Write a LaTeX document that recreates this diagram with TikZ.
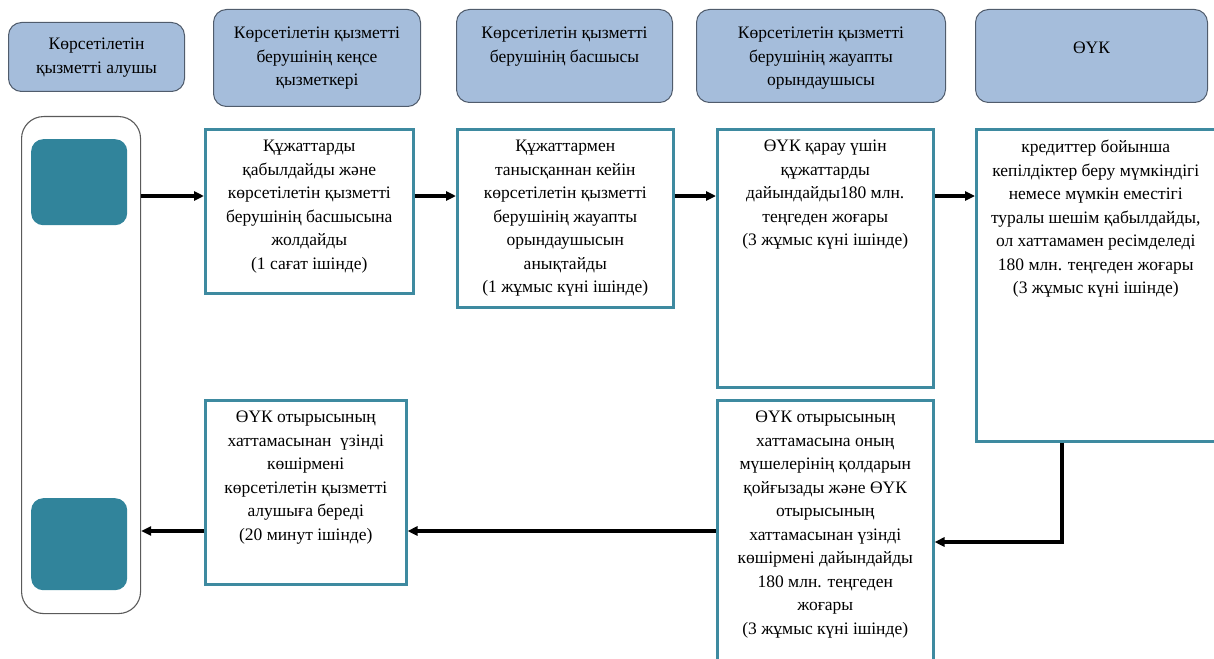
\documentclass[tikz,border=0pt]{standalone}
\usepackage{fontspec}
\setmainfont{Liberation Serif}
\usetikzlibrary{arrows.meta}
\definecolor{hdrfill}{RGB}{165,189,219}
\definecolor{hdrline}{RGB}{80,92,108}
\definecolor{teal}{RGB}{49,132,155}
\definecolor{boxline}{RGB}{62,138,160}
\definecolor{bigline}{RGB}{90,90,90}
\begin{document}
\begin{tikzpicture}[x=1pt,y=-1pt,
  hdr/.style={draw=hdrline, line width=1pt, fill=hdrfill, rounded corners=13pt, anchor=north west, inner sep=0pt},
  stepbox/.style={draw=boxline, line width=2.5pt, fill=white, anchor=north west, inner sep=0pt},
  bigbox/.style={draw=bigline, line width=1.1pt, rounded corners=22pt, anchor=north west, inner sep=0pt},
  sqbox/.style={fill=teal, rounded corners=12pt, anchor=north west, inner sep=0pt},
  txt/.style={font=\fontsize{17.5}{23.5}\selectfont, align=center, inner sep=0pt, anchor=north},
  arr/.style={line width=3.1pt, -{Triangle[length=10pt,width=9pt]}}]
\useasboundingbox (0,0) rectangle (1214,658);
% headers
\node[hdr, minimum width=176pt, minimum height=69pt] (h1) at (8,22) {};
\node[hdr, minimum width=207pt, minimum height=97pt] (h2) at (213,9) {};
\node[hdr, minimum width=216pt, minimum height=93pt] (h3) at (456,9) {};
\node[hdr, minimum width=249pt, minimum height=93pt] (h4) at (696,9) {};
\node[hdr, minimum width=232pt, minimum height=93pt] (h5) at (975,9) {};
\node[txt] (h1t) at ([yshift=-16pt]h1.north) {Көрсетілетін\\қызметті алушы};
\node[txt] (h2t) at ([yshift=-18pt]h2.north) {Көрсетілетін қызметті\\берушінің кеңсе\\қызметкері};
\node[txt] (h3t) at ([yshift=-18pt]h3.north) {Көрсетілетін қызметті\\берушінің басшысы};
\node[txt] (h4t) at ([yshift=-18pt]h4.north) {Көрсетілетін қызметті\\берушінің жауапты\\орындаушысы};
\node[txt] (h5t) at ([yshift=-33pt]h5.north) {ӨҮК};
% left lane
\node[bigbox, minimum width=119pt, minimum height=497pt] (big) at (21,116) {};
\node[sqbox, minimum width=96pt, minimum height=86pt] (sq1) at (31,139) {};
\node[sqbox, minimum width=96pt, minimum height=92pt] (sq2) at (31,498) {};
% step boxes
\node[stepbox, minimum width=208pt, minimum height=164pt] (b1) at (204,128) {};
\node[stepbox, minimum width=216pt, minimum height=178pt] (b2) at (456,128) {};
\node[stepbox, minimum width=216pt, minimum height=258pt] (b3) at (716,128) {};
\node[stepbox, minimum width=239pt, minimum height=312pt] (b4) at (975,128) {};
\node[stepbox, minimum width=201pt, minimum height=184pt] (b5) at (204,399) {};
\node[stepbox, minimum width=216pt, minimum height=275pt] (b6) at (716,399) {};
\node[txt] (b1t) at ([yshift=-12pt]b1.north) {Құжаттарды\\қабылдайды және\\көрсетілетін қызметті\\берушінің басшысына\\жолдайды\\(1 сағат ішінде)};
\node[txt] (b2t) at ([yshift=-12pt]b2.north) {Құжаттармен\\танысқаннан кейін\\көрсетілетін қызметті\\берушінің жауапты\\орындаушысын\\анықтайды\\(1 жұмыс күні ішінде)};
\node[txt] (b3t) at ([yshift=-12pt]b3.north) {ӨҮК қарау үшін\\құжаттарды\\дайындайды180 млн.\\теңгеден жоғары\\(3 жұмыс күні ішінде)};
\node[txt] (b4t) at ([yshift=-12pt]b4.north) {кредиттер бойынша\\кепілдіктер беру мүмкіндігі\\немесе мүмкін еместігі\\туралы шешім қабылдайды,\\ол хаттамамен ресімделеді\\180 млн. теңгеден жоғары\\(3 жұмыс күні ішінде)};
\node[txt] (b5t) at ([yshift=-12pt]b5.north) {ӨҮК отырысының\\хаттамасынан\ \ үзінді\\көшірмені\\көрсетілетін қызметті\\алушыға береді\\(20 минут ішінде)};
\node[txt] (b6t) at ([yshift=-12pt]b6.north) {ӨҮК отырысының\\хаттамасына оның\\мүшелерінің қолдарын\\қойғызады және ӨҮК\\отырысының\\хаттамасынан үзінді\\көшірмені дайындайды\\180 млн. теңгеден\\жоғары\\(3 жұмыс күні ішінде)};
% connectors
\coordinate (yA) at (0,196);
\coordinate (yB) at (0,531);
\coordinate (elbow) at (1062,542);
\draw[arr] (big.east |- yA) -- (b1.west |- yA);
\draw[arr] (b1.east |- yA) -- (b2.west |- yA);
\draw[arr] (b2.east |- yA) -- (b3.west |- yA);
\draw[arr] (b3.east |- yA) -- (b4.west |- yA);
\draw[arr] (b4.south -| elbow) -- (elbow) -- (b6.east |- elbow);
\draw[arr] (b6.west |- yB) -- (b5.east |- yB);
\draw[arr] (b5.west |- yB) -- (big.east |- yB);
\end{tikzpicture}
\end{document}
